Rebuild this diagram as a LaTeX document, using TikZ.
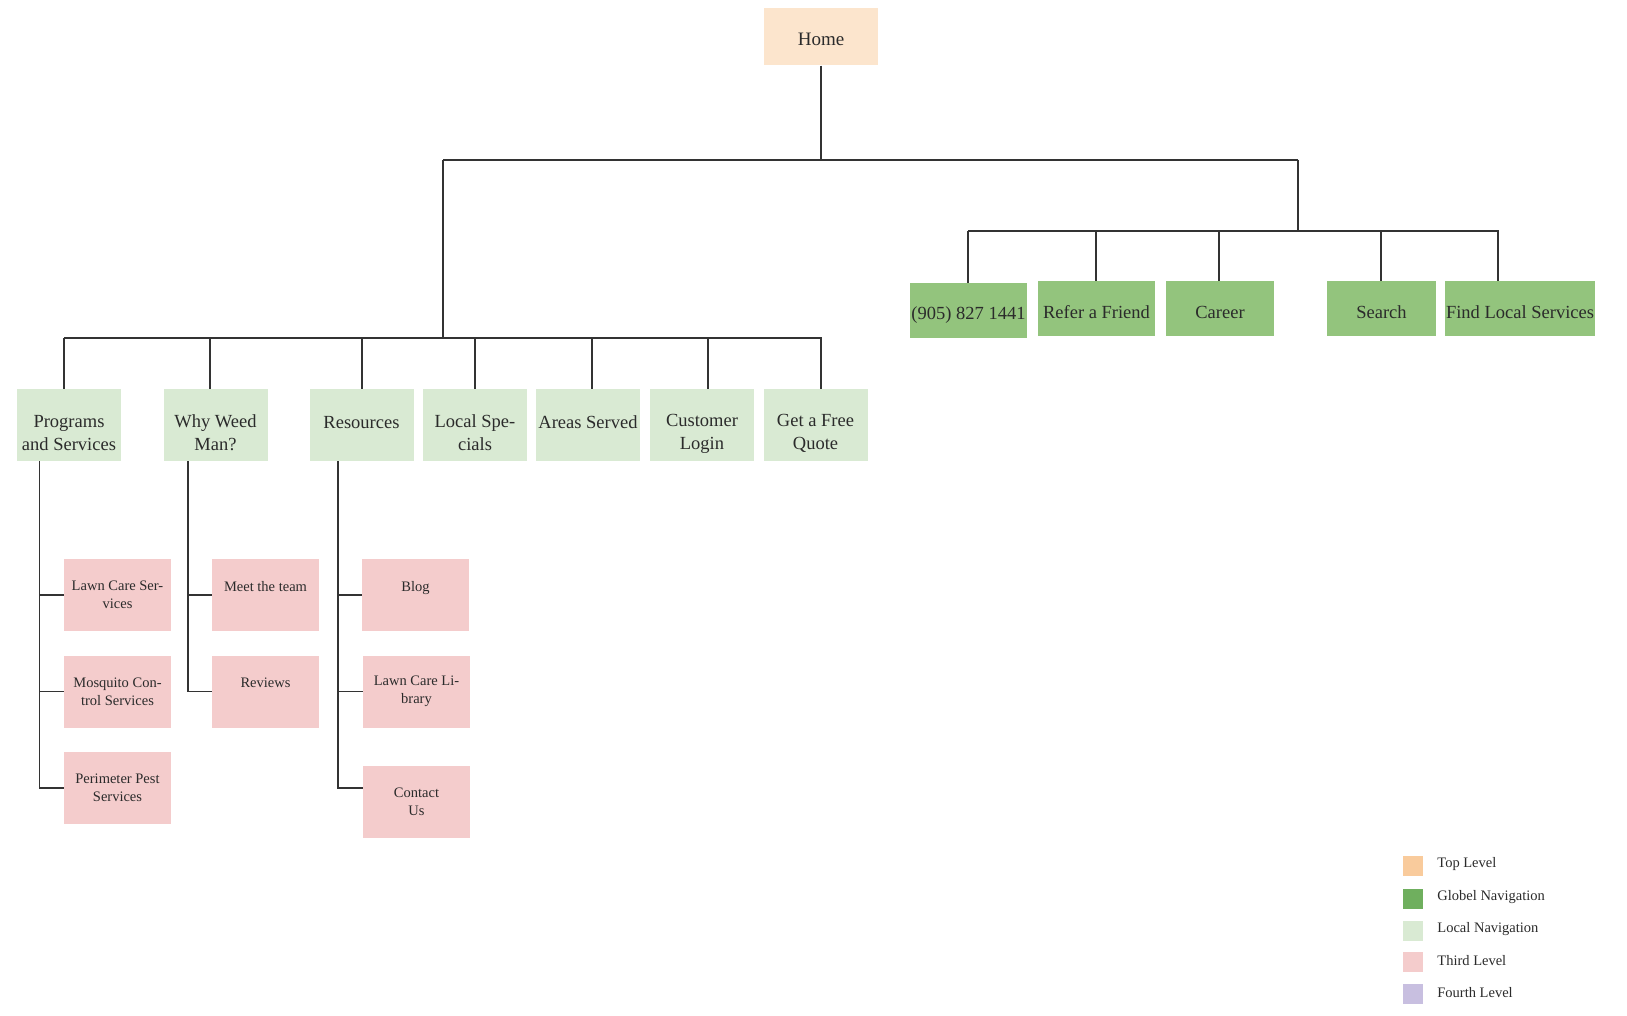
\documentclass[tikz,border=0pt]{standalone}
\usepackage{fontspec}
\setmainfont{Liberation Serif}
\usetikzlibrary{positioning}
\definecolor{SMHome}{HTML}{FCE5CD}
\definecolor{SMGlobal}{HTML}{93C47D}
\definecolor{SMLocal}{HTML}{D9EAD3}
\definecolor{SMThird}{HTML}{F4CCCC}
\definecolor{SMKeyTop}{HTML}{F9CB9C}
\definecolor{SMKeyGlobal}{HTML}{6FAF5E}
\definecolor{SMKeyFourth}{HTML}{C8BFE0}
\definecolor{SMInk}{HTML}{2B2B2B}
\definecolor{SMLine}{HTML}{333333}
\newcommand\smlift{\rule{0pt}{29pt}}
\newcommand\smgap{\rule{0pt}{21pt}}
\tikzset{
  smbox/.style={
    draw=none,
    align=center,
    inner sep=0pt,
    text=SMInk
  },
  smhome/.style={smbox, fill=SMHome,
    minimum width=114pt, minimum height=57pt,
    font=\fontsize{19}{23}\selectfont},
  smglobal/.style={smbox, fill=SMGlobal,
    minimum height=55pt,
    font=\fontsize{18.5}{22}\selectfont},
  smlocal/.style={smbox, fill=SMLocal,
    minimum width=104pt, minimum height=72pt,
    font=\fontsize{18.5}{23}\selectfont},
  smthird/.style={smbox, fill=SMThird,
    minimum width=107pt, minimum height=72pt,
    font=\fontsize{14.5}{18}\selectfont},
  smlink/.style={
    line width=1.3pt,
    draw=SMLine
  },
  smkey/.style={minimum size=20pt, inner sep=0pt},
  smkeytext/.style={
    anchor=west,
    font=\fontsize{14.5}{17}\selectfont,
    text=SMInk,
    inner sep=0pt
  }
}

\begin{document}
\begin{tikzpicture}[x=1pt,y=-1pt]
  \useasboundingbox[fill=white] (0,0) rectangle (1627,1016);

  % top level
  \node[smhome] (home) at (821,37) {\rule{0pt}{17pt}Home};

  % global navigation
  \node[smglobal,minimum width=117pt] (phone)  at (968.5,310.5) {\smgap(905) 827 1441};
  \node[smglobal,minimum width=117pt] (refer)  at (1096.5,308.5) {\smgap Refer a Friend};
  \node[smglobal,minimum width=108pt] (career) at (1220,308.5) {\smgap Career};
  \node[smglobal,minimum width=109pt] (search) at (1381.5,308.5) {\smgap Search};
  \node[smglobal,minimum width=150pt] (findloc) at (1520,308.5) {\smgap Find Local Services};

  % local navigation
  \node[smlocal] (programs)  at (69,425)    {\smlift Programs\\and Services};
  \node[smlocal] (whyweed)   at (215.5,425) {\smlift Why Weed\\Man?};
  \node[smlocal] (resources) at (361.5,425) {\smlift Resources\\\mbox{}};
  \node[smlocal] (specials)  at (475,425)   {\smlift Local Spe-\\cials};
  \node[smlocal] (areas)     at (588,425)   {\smlift Areas Served\\\mbox{}};
  \node[smlocal] (login)     at (702,425)   {\smlift Customer\\Login};
  \node[smlocal] (quote)     at (815.5,425) {\smlift Get a Free\\Quote};

  % third level
  \node[smthird] (lawncare) at (117.5,595)   {Lawn Care Ser-\\vices};
  \node[smthird] (mosquito) at (117.5,691.5) {Mosquito Con-\\trol Services};
  \node[smthird] (perim)    at (117.5,788)   {Perimeter Pest\\Services};
  \node[smthird] (team)     at (265.5,595)   {Meet the team\\\mbox{}};
  \node[smthird] (reviews)  at (265.5,691.5) {Reviews\\\mbox{}};
  \node[smthird] (blog)     at (415.5,595)   {Blog\\\mbox{}};
  \node[smthird] (library)  at (416.5,691.5) {Lawn Care Li-\\brary};
  \node[smthird] (contact)  at (416.5,801.5) {Contact\\Us};

  % tree lines
  \coordinate (hubL) at (443,160);
  \coordinate (hubR) at (1298,160);
  \coordinate (busL) at (64,338);
  \coordinate (busG) at (968,231);
  \draw[smlink] (home) -- (home |- hubL);
  \draw[smlink] (hubL) -- (hubR);
  \draw[smlink] (hubL) -- (hubL |- busL);
  \draw[smlink] (hubR) -- (hubR |- busG);
  \foreach \n/\dx in {programs/-5,whyweed/-5.5,resources/0.5,specials/0,
                      areas/4,login/6,quote/5.5}
    \draw[smlink] ([xshift=\dx pt]\n.north) |- (busL);
  \foreach \n/\dx in {phone/-0.5,refer/-0.5,career/-1,search/-0.5,findloc/-22}
    \draw[smlink] ([xshift=\dx pt]\n.north) |- (busG);

  \foreach \n in {lawncare,mosquito,perim}
    \draw[smlink] ([xshift=-29.5pt]programs.south) |- (\n);
  \foreach \n in {team,reviews}
    \draw[smlink] ([xshift=-27.5pt]whyweed.south) |- (\n);
  \foreach \n in {blog,library}
    \draw[smlink] ([xshift=-23.5pt]resources.south) |- (\n);
  \draw[smlink] ([xshift=-23.5pt]resources.south) |- ([yshift=13.5pt]contact.west);

  % legend
  \foreach \c/\t/\y/\k in {SMKeyTop/Top Level/866/keytop,
                           SMKeyGlobal/Globel Navigation/899/keyglobal,
                           SMLocal/Local Navigation/931/keylocal,
                           SMThird/Third Level/962/keythird,
                           SMKeyFourth/Fourth Level/994/keyfourth}{
    \node[smkey,fill=\c] (\k) at (1413,\y) {};
    \node[smkeytext,right=14pt of \k,yshift=1.5pt] (\k-text) {\t};
  }
\end{tikzpicture}
\end{document}
